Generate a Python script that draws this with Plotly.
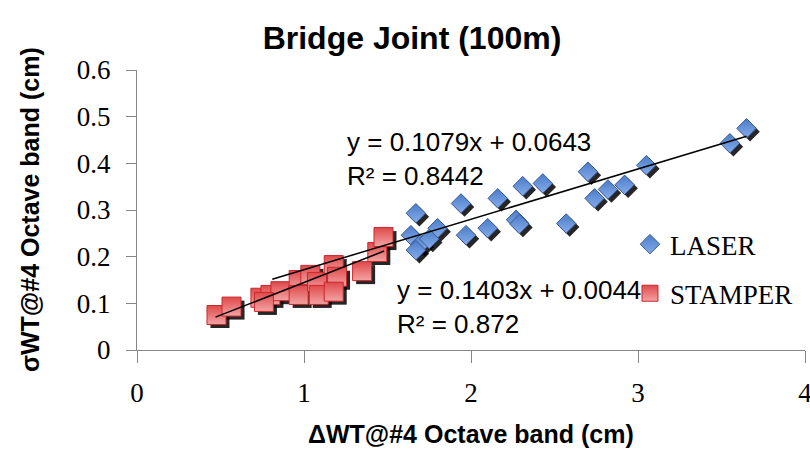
import plotly.graph_objects as go

# ---- data ----
laser_x = [3.65, 3.55, 3.05, 2.70, 2.92, 2.82, 2.74, 2.57, 2.43, 2.31, 2.27, 2.29,
           2.16, 2.10, 1.94, 1.97, 1.80, 1.67, 1.64, 1.70, 1.75, 1.67]
laser_y = [0.475, 0.443, 0.396, 0.382, 0.354, 0.344, 0.325, 0.271, 0.357, 0.351, 0.279, 0.270,
           0.325, 0.261, 0.314, 0.246, 0.261, 0.293, 0.246, 0.228, 0.238, 0.214]

stamper_x = [0.476, 0.566, 0.739, 0.799, 0.859, 0.968, 0.968, 0.76, 1.038, 1.078, 1.088,
             1.178, 1.198, 1.178, 1.348, 1.439, 1.476]
stamper_y = [0.075, 0.093, 0.112, 0.118, 0.126, 0.150, 0.118, 0.103, 0.161, 0.146, 0.118,
             0.182, 0.157, 0.125, 0.169, 0.210, 0.242]

laser_fit = {"slope": 0.1079, "intercept": 0.0643, "x_range": [0.81, 3.65]}
stamper_fit = {"slope": 0.1403, "intercept": 0.0044, "x_range": [0.47, 1.48]}

laser_eq = ["y = 0.1079x + 0.0643", "R² = 0.8442"]
stamper_eq = ["y = 0.1403x + 0.0044", "R² = 0.872"]

x_ticks = [0, 1, 2, 3, 4]
y_ticks = [0, 0.1, 0.2, 0.3, 0.4, 0.5, 0.6]
y_tick_text = ["0", "0.1", "0.2", "0.3", "0.4", "0.5", "0.6"]

title = "Bridge Joint (100m)"
x_title = "ΔWT@#4 Octave band (cm)"
y_title = "σWT@#4 Octave band (cm)"

# ---- styling ----
BOLD_SANS = "Liberation Sans, Arial, sans-serif"
SERIF = "Liberation Serif, Times New Roman, serif"
SANS = "Liberation Sans, Arial, sans-serif"
AXIS_GREY = "#868686"

# plot area: 668 px for 4 units in x, 280 px for 0.6 units in y
PX_X = 4.0 / 668
PX_Y = 0.6 / 280
SH_DX, SH_DY = 3.5 * PX_X, -3.5 * PX_Y

fig = go.Figure()

# LASER shadow + markers
fig.add_trace(go.Scatter(
    x=[v + SH_DX for v in laser_x], y=[v + SH_DY for v in laser_y],
    mode="markers", showlegend=False, hoverinfo="skip",
    marker=dict(symbol="diamond", size=15, color="rgba(0,0,0,0.85)", line=dict(width=0))))
fig.add_trace(go.Scatter(
    x=laser_x, y=laser_y, mode="markers", name="LASER", legendgroup="a",
    marker=dict(symbol="diamond", size=15, color="#4A7CC8",
                gradient=dict(type="vertical", color="#86ACEB"),
                line=dict(color="#3B5A92", width=1))))

# STAMPER shadow + markers
fig.add_trace(go.Scatter(
    x=[v + SH_DX for v in stamper_x], y=[v + SH_DY for v in stamper_y],
    mode="markers", showlegend=False, hoverinfo="skip",
    marker=dict(symbol="square", size=19, color="rgba(0,0,0,0.85)", line=dict(width=0))))
fig.add_trace(go.Scatter(
    x=stamper_x, y=stamper_y, mode="markers", name="STAMPER", legendgroup="b",
    marker=dict(symbol="square", size=19, color="#E0494B",
                gradient=dict(type="vertical", color="#F3A3A3"),
                line=dict(color="#C9282C", width=1))))

# trendlines
for fit in (laser_fit, stamper_fit):
    xs = fit["x_range"]
    ys = [fit["slope"] * v + fit["intercept"] for v in xs]
    fig.add_trace(go.Scatter(x=xs, y=ys, mode="lines", showlegend=False, hoverinfo="skip",
                             line=dict(color="black", width=1.5)))

# equation labels
fig.add_annotation(x=1.248, y=0.409, xref="x", yref="y", xanchor="left", yanchor="middle",
                   text="<br>".join(laser_eq), showarrow=False, align="left",
                   font=dict(family=SANS, size=26, color="black"))
fig.add_annotation(x=1.547, y=0.092, xref="x", yref="y", xanchor="left", yanchor="middle",
                   text="<br>".join(stamper_eq), showarrow=False, align="left",
                   font=dict(family=SANS, size=26, color="black"))

# axis titles
fig.add_annotation(x=0.5, y=-0.30, xref="paper", yref="paper", xanchor="center", yanchor="middle",
                   text="<b>" + x_title + "</b>", showarrow=False,
                   font=dict(family=BOLD_SANS, size=25, color="black"))
fig.add_annotation(x=-0.160, y=0.5, xref="paper", yref="paper", xanchor="center", yanchor="middle",
                   text="<b>" + y_title + "</b>", showarrow=False, textangle=-90,
                   font=dict(family=BOLD_SANS, size=25, color="black"))

fig.update_layout(
    width=810, height=452,
    margin=dict(l=137, r=5, t=70, b=102, autoexpand=False),
    paper_bgcolor="white", plot_bgcolor="white",
    title=dict(text="<b>" + title + "</b>", x=412 / 810, xref="container", xanchor="center",
               y=1 - 38 / 452, yref="container", yanchor="middle",
               font=dict(family=BOLD_SANS, size=32, color="black")),
    xaxis=dict(range=[0, 4], tickvals=x_ticks, ticks="outside", ticklen=12, tickcolor=AXIS_GREY,
               showline=True, linecolor=AXIS_GREY, linewidth=1, showgrid=False, zeroline=False,
               ticklabelstandoff=7, ticklabeloverflow="allow", automargin=False,
               tickfont=dict(family=SERIF, size=27, color="black"), fixedrange=True),
    yaxis=dict(range=[0, 0.6], tickvals=y_ticks, ticktext=y_tick_text, ticks="outside", ticklen=10,
               tickcolor=AXIS_GREY, showline=True, linecolor=AXIS_GREY, linewidth=1,
               showgrid=False, zeroline=False, ticklabelstandoff=10, automargin=False,
               tickfont=dict(family=SERIF, size=27, color="black"), fixedrange=True),
    legend=dict(x=0.738, y=0.464, xanchor="left", yanchor="top", bgcolor="rgba(0,0,0,0)",
                tracegroupgap=11, font=dict(family=SERIF, size=27, color="black")),
    showlegend=True,
)

fig.write_html("out.html")
